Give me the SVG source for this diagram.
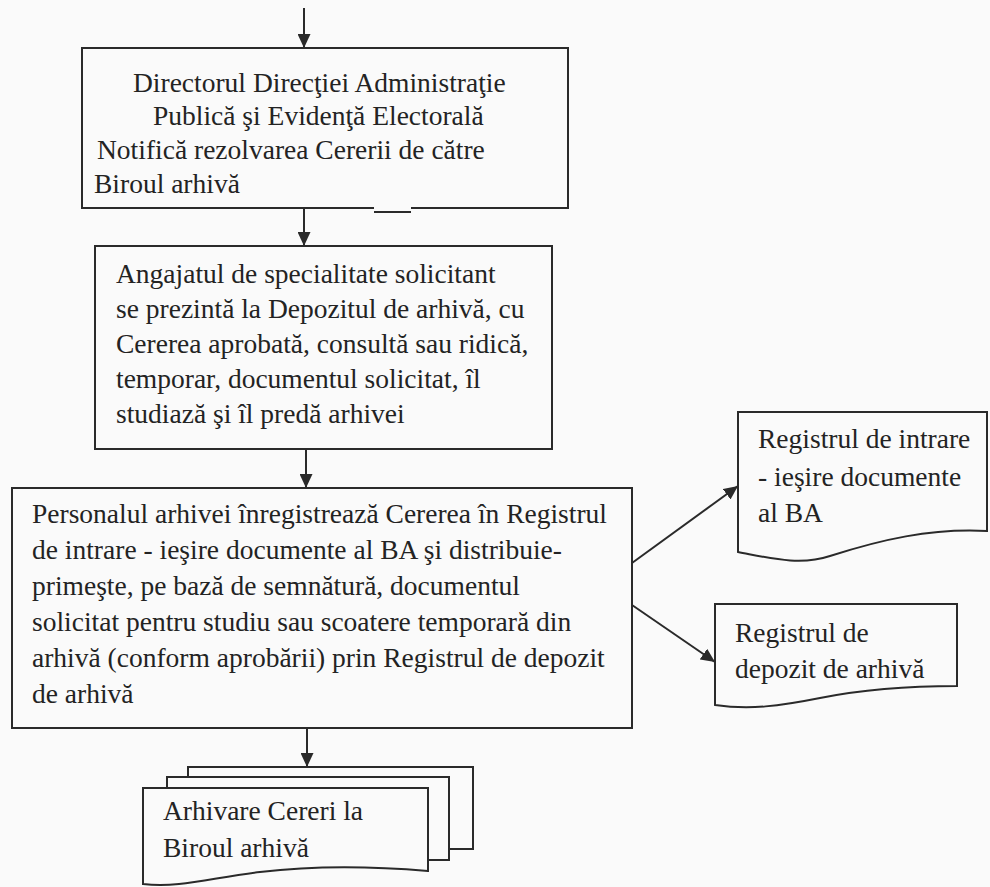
<svg xmlns="http://www.w3.org/2000/svg" width="990" height="887" viewBox="0 0 990 887">
  <style>
    .box { fill: #fafafa; stroke: #2a2a2a; stroke-width: 2; }
    .txt { font-family: "Liberation Serif", "Times New Roman", serif; font-size: 27.5px; fill: #232323; }
    .conn { fill: none; stroke: #2a2a2a; stroke-width: 2; }
  </style>
  <defs>
    <marker id="ah" viewBox="0 0 14 13" refX="14" refY="6.5" markerWidth="14" markerHeight="13" markerUnits="userSpaceOnUse" orient="auto">
      <path d="M0,0 L14,6.5 L0,13 z" fill="#2a2a2a"/>
    </marker>
  </defs>

  <rect x="0" y="0" width="990" height="887" fill="#fafafa"/>

  <g id="director">
    <rect class="box" x="82" y="48" width="486" height="160"/>
    <!-- break in the lower border -->
    <rect x="374" y="205" width="37" height="6" fill="#fafafa"/>
    <line x1="374" y1="212" x2="411" y2="212" stroke="#2a2a2a" stroke-width="2"/>
    <text class="txt" x="133" y="92">Directorul Direcţiei Administraţie</text>
    <text class="txt" x="153" y="125">Publică şi Evidenţă Electorală</text>
    <text class="txt" x="97" y="159">Notifică rezolvarea Cererii de către</text>
    <text class="txt" x="94" y="193">Biroul arhivă</text>
  </g>

  <g id="angajat">
    <rect class="box" x="95" y="246" width="457" height="203"/>
    <text class="txt" x="116" y="283">Angajatul de specialitate solicitant</text>
    <text class="txt" x="116" y="318">se prezintă la Depozitul de arhivă, cu</text>
    <text class="txt" x="116" y="353">Cererea aprobată, consultă sau ridică,</text>
    <text class="txt" x="116" y="388">temporar, documentul solicitat, îl</text>
    <text class="txt" x="116" y="423">studiază şi îl predă arhivei</text>
  </g>

  <g id="personal">
    <rect class="box" x="12" y="488" width="620" height="240"/>
    <text class="txt" x="32" y="523">Personalul arhivei înregistrează Cererea în Registrul</text>
    <text class="txt" x="32" y="559">de intrare - ieşire documente al BA şi distribuie-</text>
    <text class="txt" x="32" y="595">primeşte, pe bază de semnătură, documentul</text>
    <text class="txt" x="32" y="631">solicitat pentru studiu sau scoatere  temporară din</text>
    <text class="txt" x="32" y="667">arhivă (conform aprobării) prin Registrul de depozit</text>
    <text class="txt" x="32" y="703">de arhivă</text>
  </g>

  <g id="registru-intrare">
    <path class="box" d="M738,412 H987 V531 C930,528 880,540 830,556 C800,566 770,558 738,552 Z"/>
    <text class="txt" x="758" y="448">Registrul de intrare</text>
    <text class="txt" x="758" y="486">- ieşire documente</text>
    <text class="txt" x="758" y="522">al BA</text>
  </g>

  <g id="registru-depozit">
    <path class="box" d="M715,604 H957 V686 C900,686 860,690 820,698 C780,706 750,710 715,705 Z"/>
    <text class="txt" x="735" y="642">Registrul de</text>
    <text class="txt" x="735" y="678">depozit de arhivă</text>
  </g>

  <g id="arhivare">
    <rect class="box" x="188" y="767" width="285" height="82"/>
    <rect class="box" x="167" y="777" width="282" height="83"/>
    <path class="box" d="M143,788 H428 V871 C370,866 310,866 260,872 C210,878 180,888 143,884 Z"/>
    <text class="txt" x="163" y="820">Arhivare Cereri la</text>
    <text class="txt" x="163" y="857">Biroul arhivă</text>
  </g>

  <g id="connectors">
    <path class="conn" d="M304,8 V48" marker-end="url(#ah)"/>
    <path class="conn" d="M304,209 V246" marker-end="url(#ah)"/>
    <path class="conn" d="M306,449 V488" marker-end="url(#ah)"/>
    <path class="conn" d="M632,563 L738,486" marker-end="url(#ah)"/>
    <path class="conn" d="M632,605 L715,662" marker-end="url(#ah)"/>
    <path class="conn" d="M307,728 V767" marker-end="url(#ah)"/>
  </g>
</svg>
